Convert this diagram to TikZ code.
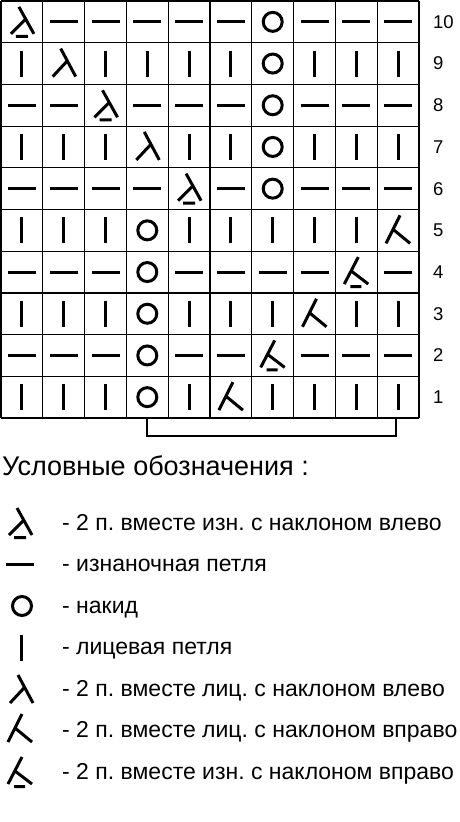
\documentclass[tikz,border=0pt]{standalone}
\usepackage{fontspec}
\setmainfont{Liberation Sans}
\frenchspacing

\begin{document}
\begin{tikzpicture}[x=1pt, y=-1pt]

\tikzset{
  gridline/.style={line width=1.2pt},
  sym/.style={line width=3pt},
  bracket/.style={line width=2.8pt},
  rownum/.style={anchor=west, inner sep=0pt, font=\fontsize{18.5}{18.5}\selectfont},
  legtitle/.style={anchor=west, inner sep=0pt, font=\fontsize{27}{27}\selectfont},
  legtext/.style={anchor=base west, inner sep=0pt, font=\fontsize{23}{23}\selectfont},
  knit/.pic={\draw[sym] (0,-13) -- (0,13);},
  purl/.pic={\draw[sym] (-14,0) -- (14,0);},
  yo/.pic={\draw[sym] (0,0) circle (9.5pt);},
  kleft/.pic={\draw[sym] (-3,-15) -- (12,13) (3,-2) -- (-11,13);},
  kright/.pic={\draw[sym] (2,-15) -- (-12,13) (-5,-1) -- (12,13);},
  pleft/.pic={\draw[sym] (-3,-15) -- (12,12) (3,-2) -- (-11,12) (-6,14.5) -- (6,14.5);},
  pright/.pic={\draw[sym] (2,-15) -- (-12,12) (-5,-1) -- (12,12) (-6,14.5) -- (5,14.5);}
}

\useasboundingbox[fill=white] (0,0) rectangle (460,822);

% --- Сетка 10 x 10 ---
\foreach \i in {0,...,10} {
  \draw[gridline] ({1+\i*41.8},1) -- ({1+\i*41.8},418);
  \draw[gridline] (1,{1+\i*41.7}) -- (419,{1+\i*41.7});
}

% --- Ряды схемы (сверху вниз) ---
\foreach \r/\codes in {
  10/{pleft,purl,purl,purl,purl,purl,yo,purl,purl,purl},
  9/{knit,kleft,knit,knit,knit,knit,yo,knit,knit,knit},
  8/{purl,purl,pleft,purl,purl,purl,yo,purl,purl,purl},
  7/{knit,knit,knit,kleft,knit,knit,yo,knit,knit,knit},
  6/{purl,purl,purl,purl,pleft,purl,yo,purl,purl,purl},
  5/{knit,knit,knit,yo,knit,knit,knit,knit,knit,kright},
  4/{purl,purl,purl,yo,purl,purl,purl,purl,pright,purl},
  3/{knit,knit,knit,yo,knit,knit,knit,kright,knit,knit},
  2/{purl,purl,purl,yo,purl,purl,pright,purl,purl,purl},
  1/{knit,knit,knit,yo,knit,kright,knit,knit,knit,knit}}
{
  \foreach \s [count=\c] in \codes
    \pic at ({1+(\c-0.5)*41.8}, {1+(10.5-\r)*41.7}) {\s};
  % номер ряда справа
  \node[rownum] (row\r) at (433, {1+(10.5-\r)*41.7}) {\r};
}

% --- Раппорт (скобка под схемой) ---
\coordinate (repL) at (147,418);
\coordinate (repR) at (396,418);
\draw[bracket] (repL) -- ++(0,18) -| (repR);

% --- Условные обозначения ---
\node[legtitle] (title) at (2,466) {Условные обозначения :};

\pic at (20,523) {pleft};
\node[legtext] (leg1) at (62,530) {- 2 п. вместе изн. с наклоном влево};

\pic at (20,564) {purl};
\node[legtext] (leg2) at (62,571.5) {- изнаночная петля};

\pic at (22,606) {yo};
\node[legtext] (leg3) at (62,613) {- накид};

\pic at (21,647.5) {knit};
\node[legtext] (leg4) at (62,654.5) {- лицевая петля};

\pic at (21,690) {kleft};
\node[legtext] (leg5) at (62,696) {- 2 п. вместе лиц. с наклоном влево};

\pic at (20,729) {kright};
\node[legtext] (leg6) at (62,737.5) {- 2 п. вместе лиц. с наклоном вправо};

\pic at (20,772) {pright};
\node[legtext] (leg7) at (62,779) {- 2 п. вместе изн. с наклоном вправо};

\end{tikzpicture}
\end{document}
